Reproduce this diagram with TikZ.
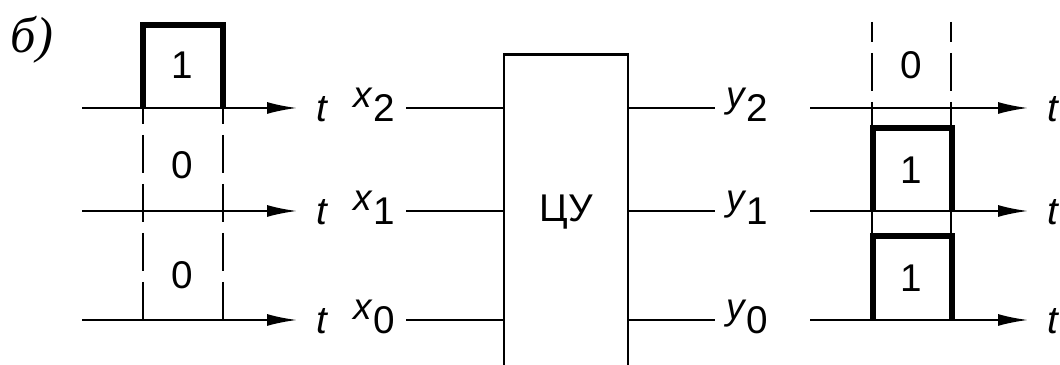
\documentclass[tikz,border=0pt]{standalone}
\usepackage{fontspec}
\setmainfont{Liberation Sans}
\newfontfamily\tagfont{Liberation Serif}
\usetikzlibrary{arrows.meta}

\newcommand{\sig}[2]{\raisebox{1.4mm}{\fontsize{10.5pt}{12pt}\selectfont\itshape #1}\kern0.2mm#2}

\tikzset{
  ax/.style={-{Latex[length=3mm,width=1.2mm]}, line width=0.6pt},
  pulse/.style={line width=1.5pt},
  gate/.style={dash pattern=on 3.8mm off 1.1mm, line width=0.8pt},
  lbl/.style={inner xsep=1mm, inner ysep=0pt, text height=2.8mm, text depth=0pt},
  cubox/.style={draw, line width=0.8pt, minimum width=12.4mm, minimum height=36mm},
}

\begin{document}
\begin{tikzpicture}[x=1mm, y=-1mm, line width=0.6pt,
    font=\fontsize{11pt}{13pt}\selectfont]
    \useasboundingbox (0,0) rectangle (106,36.5);
    \clip (0,0) rectangle (106,36.5);

    \node[font=\tagfont\itshape\Large] (tag) at (3.2,4) {б)};

    % input signals
    \draw[pulse] (14.3,10.8) |- (22.3,2.5) -- (22.3,10.8);
    \draw[gate, dash phase=2.2mm] (14.3,10.8) -- (14.3,32);
    \draw[gate, dash phase=2.2mm] (22.3,10.8) -- (22.3,32);
    \node (in2) at (18.2,6.5) {1};
    \node (in1) at (18.2,16.5) {0};
    \node (in0) at (18.2,27.5) {0};

    % combinational device
    \node[cubox, anchor=north] (cu) at (56.6,5.3) {};
    \node (cutxt) at (56.6,21.2) {ЦУ};

    \foreach \i/\yy in {2/10.8, 1/21.1, 0/32.0} {
        \draw[ax] (8.2,\yy) -- (29.7,\yy) node[lbl, right, inner xsep=1.8mm, name=tl\i] {\textit{t}};
        \node[lbl, anchor=west] (x\i) at (34.2,\yy) {\sig{x}{\i}};
        \draw (x\i) -- (x\i -| cu.west);
        \node[lbl, anchor=west] (y\i) at (71.5,\yy) {\sig{y}{\i}};
        \draw (cu.east |- y\i) -- (y\i);
        \draw[ax] (81,\yy) -- (102.8,\yy) node[lbl, right, inner xsep=1.8mm, name=tr\i] {\textit{t}};
    }

    % output signals
    \draw[gate, dash phase=1.8mm] (87.2,2.2) -- (87.2,10.8);
    \draw[gate, dash phase=1.8mm] (95.1,2.2) -- (95.1,10.8);
    \draw (87.2,10.8) -- (87.2,12.8) (95.1,10.8) -- (95.1,12.8);
    \draw (87.2,21.1) -- (87.2,23.6) (95.1,21.1) -- (95.1,23.6);
    \draw[pulse] (87.3,21.1) |- (95.2,12.8) -- (95.2,21.1);
    \draw[pulse] (87.3,32.0) |- (95.2,23.6) -- (95.2,32.0);
    \node (out2) at (91.1,6.5) {0};
    \node (out1) at (91.1,17.0) {1};
    \node (out0) at (91.1,27.8) {1};
\end{tikzpicture}
\end{document}
